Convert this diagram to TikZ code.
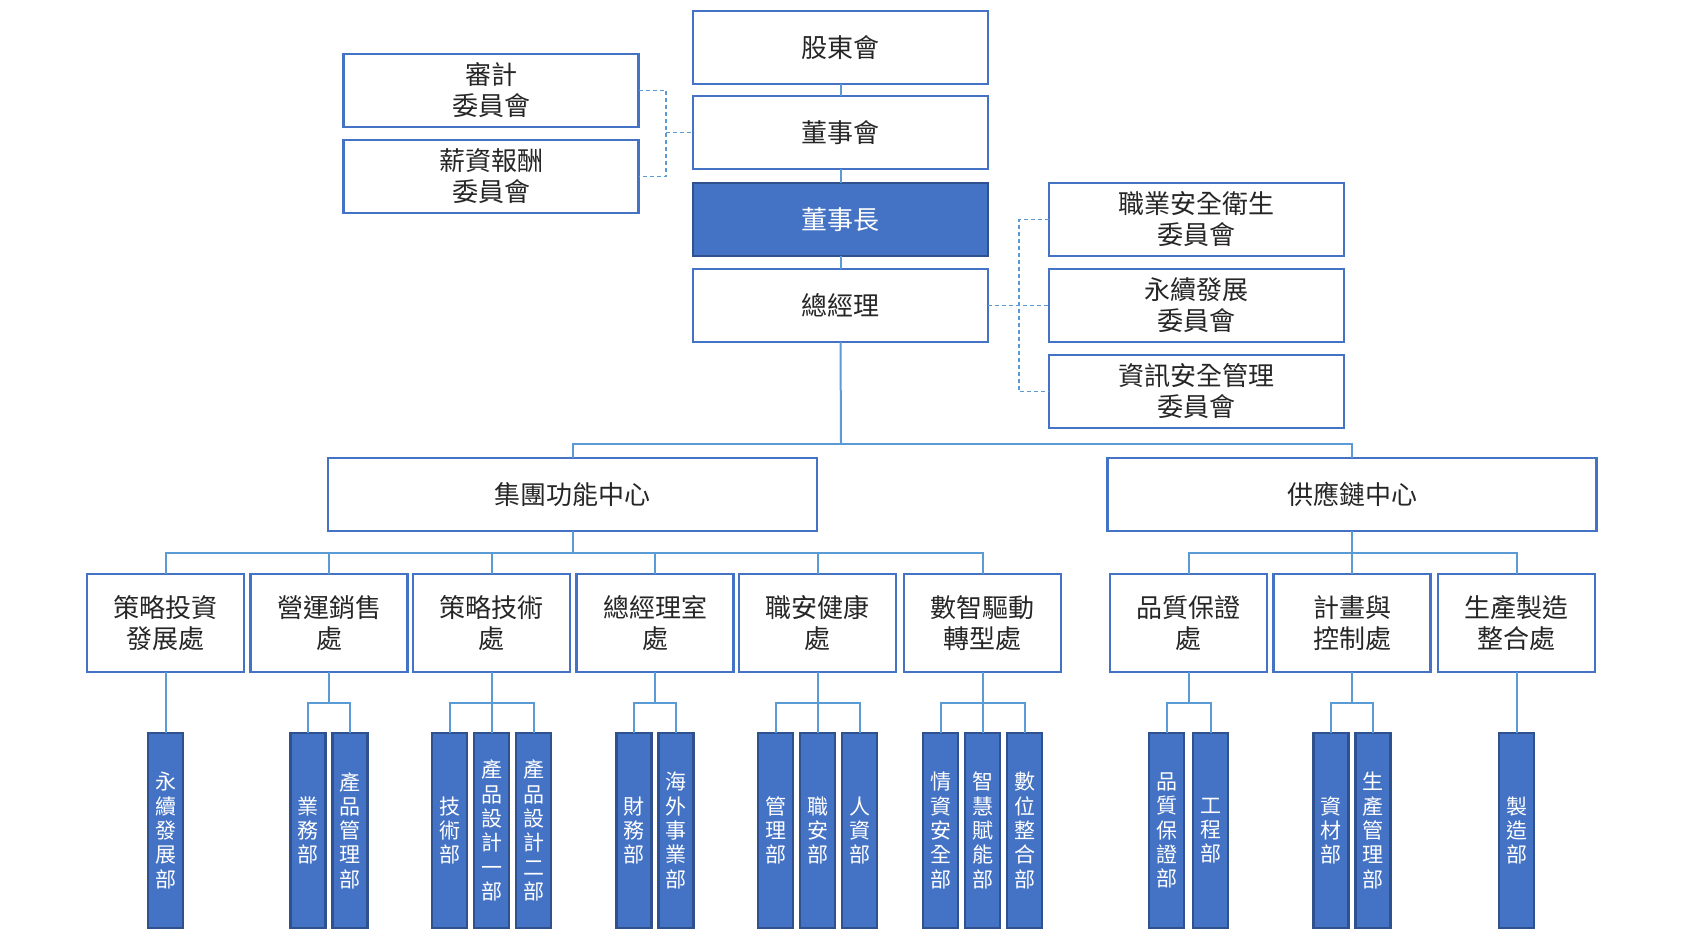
\documentclass[tikz,border=0pt]{standalone}
\usepackage{fontspec}
\setmainfont{Noto Sans CJK TC}
\usetikzlibrary{positioning}

\definecolor{boxblue}{HTML}{4472C4}
\definecolor{darkblue}{HTML}{2F528F}
\definecolor{lineblue}{HTML}{5B9BD5}
\definecolor{textgray}{HTML}{262626}

\tikzset{
  box/.style={draw=boxblue, line width=2.2pt, fill=white, text=textgray, align=center, inner sep=0pt, outer sep=0pt, font={\fontsize{26}{31}\selectfont}},
  topbox/.style={box, minimum width=295pt, minimum height=73pt},
  chairbox/.style={topbox, fill=boxblue, draw=darkblue, text=white},
  centerbox/.style={box, minimum width=489pt, minimum height=73pt},
  deptbox/.style={box, minimum width=157pt, minimum height=98pt},
  unitbox/.style={draw=darkblue, fill=boxblue, line width=2.2pt, text=white, align=center, inner sep=0pt, outer sep=0pt, minimum width=35pt, minimum height=195pt, font={\fontsize{21}{24.3}\selectfont}},
  link/.style={draw=lineblue, line width=2pt},
  dlink/.style={draw=lineblue, line width=1.5pt, dash pattern=on 4pt off 3pt}
}

\begin{document}
\begin{tikzpicture}[x=1pt, y=-1pt]
  \useasboundingbox (0,0) rectangle (1685,938);

  \node[topbox] (share) at (840.5,47.5) {股東會};
  \node[topbox, below=12pt of share] (board) {董事會};
  \node[chairbox, below=14pt of board] (chair) {董事長};
  \node[topbox, below=13pt of chair] (gm) {總經理};

  \node[topbox] (audit) at (491,90.5) {審計\\委員會};
  \node[topbox, below=13pt of audit] (pay) {薪資報酬\\委員會};

  \node[topbox] (osh) at (1196.5,219.5) {職業安全衛生\\委員會};
  \node[topbox, below=13pt of osh] (esg) {永續發展\\委員會};
  \node[topbox, below=13pt of esg] (infosec) {資訊安全管理\\委員會};

  \node[centerbox] (group) at (572.5,494.5) {集團功能中心};
  \node[centerbox] (supply) at (1352,494.5) {供應鏈中心};

  \foreach \n/\x/\t in {d1/165.5/{策略投資\\發展處}, d2/329/{營運銷售\\處}, d3/491.5/{策略技術\\處},
      d4/655/{總經理室\\處}, d5/817.5/{職安健康\\處}, d6/982.5/{數智驅動\\轉型處},
      d7/1188.5/{品質保證\\處}, d8/1352/{計畫與\\控制處}, d9/1516.5/{生產製造\\整合處}}
    \node[deptbox] (\n) at (\x,623) {\t};

  \foreach \n/\x/\t in {u1/165.5/{永\\續\\發\\展\\部}, u2/308/{業\\務\\部}, u3/350/{產\\品\\管\\理\\部},
      u4/449.5/{技\\術\\部}, u5/491.5/{產\\品\\設\\計\\一\\部}, u6/533.5/{產\\品\\設\\計\\二\\部},
      u7/634/{財\\務\\部}, u8/676/{海\\外\\事\\業\\部},
      u9/775.5/{管\\理\\部}, u10/817.5/{職\\安\\部}, u11/859.5/{人\\資\\部},
      u12/940.5/{情\\資\\安\\全\\部}, u13/982.5/{智\\慧\\賦\\能\\部}, u14/1024.5/{數\\位\\整\\合\\部},
      u15/1166.5/{品\\質\\保\\證\\部}, u16/1210.5/{工\\程\\部},
      u17/1331/{資\\材\\部}, u18/1373/{生\\產\\管\\理\\部}, u19/1516.5/{製\\造\\部}}
    \node[unitbox] (\n) at (\x,830.5) {\t};

  \draw[link] (share) -- (board);
  \draw[link] (board) -- (chair);
  \draw[link] (chair) -- (gm);

  \coordinate (ljoin) at (666,132.5);
  \draw[dlink] (audit.east) -| (ljoin) |- (pay.east);
  \draw[dlink] (ljoin) -- (board.west);

  \coordinate (rjoin) at (1019,305.5);
  \draw[dlink] (osh.west) -| (rjoin) |- (infosec.west);
  \draw[dlink] (gm.east) -- (esg.west);

  \coordinate (gbar) at (841,444);
  \draw[link] (gm.south) -- (gbar);
  \draw[link] (group.north) |- (gbar) -| (supply.north);

  \foreach \d in {d1,d2,d3,d4,d5,d6}
    \draw[link] (group.south) -- ++(0,22) -| (\d.north);
  \foreach \d in {d7,d8,d9}
    \draw[link] (supply.south) -- ++(0,22) -| (\d.north);

  \foreach \p/\c in {d1/u1, d2/u2, d2/u3, d3/u4, d3/u5, d3/u6, d4/u7, d4/u8,
      d5/u9, d5/u10, d5/u11, d6/u12, d6/u13, d6/u14, d7/u15, d7/u16, d8/u17, d8/u18, d9/u19}
    \draw[link] (\p.south) -- ++(0,31) -| (\c.north);
\end{tikzpicture}
\end{document}
